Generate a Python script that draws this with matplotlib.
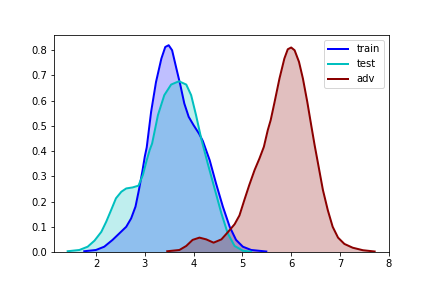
import matplotlib
matplotlib.use("Agg")
import matplotlib.pyplot as plt

# values
train_x = [1.76, 2.0, 2.17, 2.34, 2.48, 2.62, 2.72, 2.81, 2.88, 2.95, 3.0, 3.04, 3.13, 3.23, 3.34, 3.42,
           3.49, 3.56, 3.64, 3.73, 3.81, 3.90, 4.0, 4.11, 4.19, 4.33, 4.46, 4.60, 4.74, 4.87, 5.01,
           5.18, 5.49]
train_y = [0.003, 0.008, 0.021, 0.048, 0.074, 0.100, 0.133, 0.180, 0.246, 0.319, 0.378, 0.415, 0.556,
           0.674, 0.767, 0.813, 0.820, 0.800, 0.734, 0.661, 0.589, 0.536, 0.503, 0.470, 0.440, 0.364,
           0.272, 0.180, 0.100, 0.048, 0.021, 0.008, 0.002]

test_x = [1.42, 1.66, 1.83, 1.97, 2.11, 2.21, 2.31, 2.41, 2.52, 2.62, 2.75, 2.87, 2.96, 3.04, 3.10,
          3.15, 3.27, 3.40, 3.54, 3.70, 3.85, 3.95, 4.05, 4.16, 4.29, 4.43, 4.57, 4.70, 4.84, 5.01,
          5.18]
test_y = [0.003, 0.008, 0.021, 0.045, 0.080, 0.120, 0.166, 0.213, 0.239, 0.252, 0.256, 0.263, 0.305,
          0.364, 0.404, 0.430, 0.543, 0.622, 0.664, 0.677, 0.664, 0.622, 0.543, 0.447, 0.351, 0.252,
          0.153, 0.074, 0.024, 0.005, 0.001]

adv_x = [3.46, 3.71, 3.85, 3.98, 4.12, 4.26, 4.41, 4.57, 4.70, 4.84, 4.94, 5.04, 5.14, 5.25, 5.35,
         5.44, 5.52, 5.58, 5.66, 5.76, 5.86, 5.93, 6.0, 6.07, 6.16, 6.24, 6.33, 6.41, 6.48, 6.55,
         6.65, 6.75, 6.85, 6.96, 7.09, 7.26, 7.47, 7.71]
adv_y = [0.003, 0.008, 0.024, 0.048, 0.057, 0.050, 0.037, 0.050, 0.078, 0.110, 0.145, 0.206, 0.265,
         0.325, 0.371, 0.417, 0.483, 0.523, 0.595, 0.688, 0.767, 0.804, 0.811, 0.800, 0.754, 0.688,
         0.595, 0.503, 0.424, 0.351, 0.246, 0.166, 0.100, 0.057, 0.032, 0.017, 0.007, 0.002]

series = [("train", train_x, train_y, "b"),
          ("test", test_x, test_y, "c"),
          ("adv", adv_x, adv_y, "darkred")]

fig, ax = plt.subplots(figsize=(6, 4), dpi=72)
fig.subplots_adjust(left=0.125, right=0.9, bottom=0.125, top=0.878)

for name, xs, ys, col in series:
    ax.fill_between(xs, 0, ys, color=col, alpha=0.25, linewidth=0)
    ax.plot(xs, ys, color=col, lw=2, label=name)

ax.set_xlim(1.14, 8.0)
ax.set_ylim(0, 0.86)
ax.legend(loc="upper right")

fig.savefig("out.png", dpi=72)
